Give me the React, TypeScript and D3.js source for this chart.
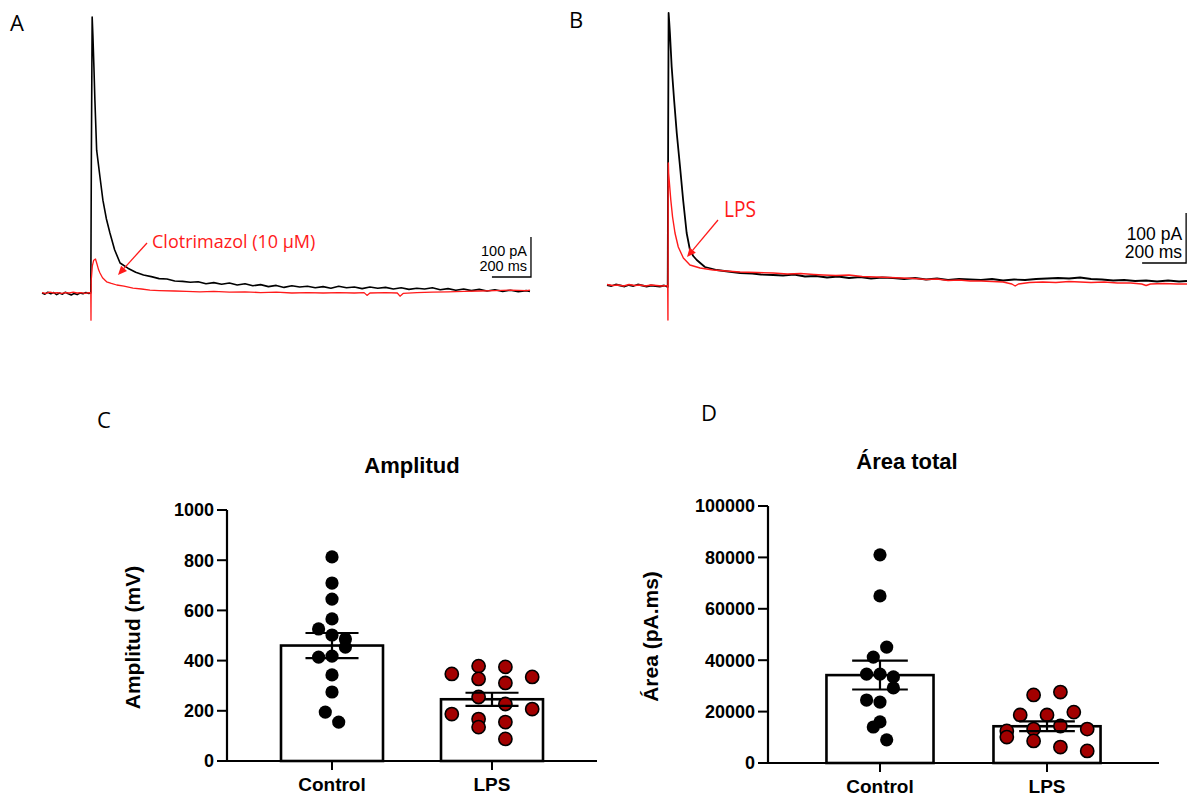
import React from 'react';
import * as d3 from 'd3';

type Pt = [number, number];

// traces: [time ms, current pA]
const traceAControl: Pt[] = [
  [0, 0], [15, -3], [30, 2], [45, -2], [60, 1], [75, -4], [90, 0], [105, -3], [120, 2], [135, -2], [150, -5],
  [165, -1], [180, -4], [195, 0], [210, -2], [225, 1], [240, -1], [250, 0],
  [253, 350], [257, 690], [261, 640], [266, 565], [271, 482], [280, 357], [297, 290], [312, 232], [330, 185],
  [348, 150], [372, 108], [400, 75], [440, 62], [480, 52], [520, 45], [560, 41], [600, 36], [640, 35], [680, 30],
  [720, 29], [760, 27], [800, 28], [840, 23], [880, 26], [920, 22], [960, 25], [1000, 20], [1040, 23], [1080, 18],
  [1120, 21], [1160, 16], [1200, 19], [1240, 14], [1280, 18], [1320, 15], [1360, 17], [1400, 13], [1440, 16],
  [1480, 12], [1520, 17], [1560, 13], [1600, 15], [1640, 11], [1680, 15], [1720, 12], [1760, 14], [1800, 10],
  [1840, 13], [1880, 9], [1920, 12], [1960, 10], [2000, 13], [2040, 8], [2080, 11], [2120, 7], [2160, 10],
  [2200, 6], [2240, 9], [2280, 5], [2320, 8], [2360, 4], [2400, 7], [2440, 3], [2480, 6], [2500, 4],
];

const traceAClotri: Pt[] = [
  [0, 1], [20, -1], [40, 2], [60, 0], [80, 1], [100, -1], [120, 1], [140, 0], [160, 2], [180, 0], [200, 1],
  [220, -1], [240, 1], [250, 0], [251, -68], [252, 30], [258, 68], [265, 82], [274, 85], [282, 72], [290, 58],
  [297, 50], [310, 38], [331, 28], [355, 24], [383, 20], [420, 17], [466, 12], [510, 10], [553, 7], [600, 6],
  [680, 5], [740, 4], [809, 3], [880, 4], [960, 2], [1040, 3], [1120, 1], [1200, 2], [1280, 0], [1360, 1],
  [1440, 0], [1520, 1], [1600, 0], [1650, 1], [1665, -6], [1680, 0], [1760, 1], [1820, 0], [1834, -8],
  [1850, -1], [1920, 1], [2000, 2], [2080, 3], [2160, 4], [2240, 5], [2320, 6], [2400, 7], [2480, 6], [2500, 7],
];

const traceBControl: Pt[] = [
  [0, 0], [20, -2], [40, 1], [60, -1], [80, -3], [100, 0], [120, -2], [140, 1], [160, -1], [180, -3], [200, -1],
  [220, -2], [240, -3], [260, -1], [276, -4], [278, 300], [280, 544], [283, 525], [286, 504], [294, 436],
  [305, 370], [317, 304], [332, 236], [346, 170], [362, 104], [377, 70], [392, 58], [408, 50], [445, 36],
  [499, 30], [550, 27], [605, 24], [660, 23], [700, 21], [755, 20], [800, 19], [850, 21], [900, 17], [950, 18],
  [1000, 15], [1050, 17], [1100, 14], [1150, 16], [1200, 13], [1250, 15], [1300, 14], [1350, 12], [1400, 14],
  [1450, 11], [1500, 13], [1550, 10], [1600, 12], [1650, 11], [1700, 10], [1750, 12], [1800, 9], [1850, 11],
  [1900, 10], [1950, 12], [2000, 13], [2050, 14], [2100, 13], [2150, 15], [2200, 12], [2250, 11], [2300, 9],
  [2350, 10], [2400, 8], [2450, 9], [2500, 7], [2550, 9], [2600, 7], [2636, 8],
];

const traceBLps: Pt[] = [
  [0, 1], [25, -1], [50, 0], [75, -2], [100, 1], [125, -1], [150, 0], [175, -2], [200, 0], [225, -1], [250, -2],
  [276, -1], [277, -70], [278, 180], [279, 244], [280, 224], [290, 170], [298, 136], [309, 104], [324, 76],
  [347, 54], [377, 40], [423, 34], [482, 30], [540, 28], [605, 26], [680, 25], [755, 24], [820, 22], [880, 23],
  [940, 21], [982, 20], [1040, 19], [1100, 20], [1160, 17], [1220, 16], [1286, 15], [1340, 14], [1400, 13],
  [1450, 11], [1500, 12], [1550, 9], [1600, 10], [1650, 8], [1700, 8], [1750, 7], [1800, 6], [1840, 2],
  [1855, -2], [1870, 2], [1920, 5], [1980, 6], [2040, 5], [2100, 7], [2150, 6], [2200, 5], [2260, 6],
  [2320, 4], [2380, 4], [2430, 2], [2450, -1], [2470, 2], [2530, 3], [2590, 2], [2636, 2],
];

// bar charts
const groups = ['Control', 'LPS'];

const ampMean = [460, 246];
const ampSem = [50, 26];
const ampTicks = [0, 200, 400, 600, 800, 1000];
// [value, column slot]
const ampControl: Pt[] = [
  [813, 0], [709, 0], [645, 0], [566, 0], [526, -2], [502, 0], [486, 2], [454, 2], [414, -2], [418, 0],
  [343, 0], [275, 0], [195, -1], [155, 1],
];
const ampLps: Pt[] = [
  [347, -6], [378, -2], [327, -2], [375, 2], [311, 2], [335, 6], [255, -2], [227, 2], [207, 6], [187, -6],
  [167, -2], [135, -2], [155, 2], [88, 2],
];

const areaMean = [34200, 14300];
const areaSem = [5600, 1900];
const areaTicks = [0, 20000, 40000, 60000, 80000, 100000];
const areaControl: Pt[] = [
  [81000, 0], [65000, 0], [45100, 1], [41200, -1], [34600, -2], [34600, 0], [33500, 2], [29200, 2],
  [24500, -2], [23700, 0], [16000, 0], [14000, -1], [9000, 1],
];
const areaLps: Pt[] = [
  [26500, -2], [27600, 2], [18700, -4], [18700, 0], [19800, 4], [12500, -6], [10100, -6], [13200, -2],
  [14400, 2], [13200, 6], [8600, -2], [6200, 2], [4700, 6],
];

const RED = '#ff1a1a';
const DOT_RED = '#a30000';
const ARIAL = '"Liberation Sans", Arial, sans-serif';
const SANS = '"Open Sans", "Noto Sans", sans-serif';

function Trace({ data, x, y, color, w }: any) {
  const line = d3.line<Pt>().x(d => x(d[0])).y(d => y(d[1]));
  return <path d={line(data) || ''} fill="none" stroke={color} strokeWidth={w} strokeLinejoin="round" />;
}

function ScaleBar({ x, y, t, i, fs, lift }: any) {
  const cx = x(t), cy = y(i);
  const left = x(t - 200), top = y(i + 100);
  return (
    <g fontFamily={ARIAL} fontSize={fs} textAnchor="end">
      <path d={`M${left},${cy}H${cx}V${top}`} fill="none" stroke="#000" strokeWidth={1.3} />
      <text x={cx - 4} y={cy - lift - fs * 1.05}>100 pA</text>
      <text x={cx - 4} y={cy - lift}>200 ms</text>
    </g>
  );
}

function Arrow({ x1, y1, x2, y2 }: any) {
  const a = Math.atan2(y2 - y1, x2 - x1);
  const L = 9, W = 4;
  const bx = x2 - L * Math.cos(a), by = y2 - L * Math.sin(a);
  const p = [
    [x2, y2],
    [bx + W * Math.sin(a), by - W * Math.cos(a)],
    [bx - W * Math.sin(a), by + W * Math.cos(a)],
  ];
  return (
    <g>
      <line x1={x1} y1={y1} x2={bx} y2={by} stroke={RED} strokeWidth={1.3} />
      <polygon points={p.map(q => q.join(',')).join(' ')} fill={RED} />
    </g>
  );
}

function BarPanel({ x0, x1, yBottom, yTop, max, ticks, means, sems, dots, fills, padIn, padOut, title, titleX, yLabel, yLabelX, xLabelY }: any) {
  const x = d3.scaleBand().domain(groups).range([x0, x1]).paddingInner(padIn).paddingOuter(padOut);
  const y = d3.scaleLinear().domain([0, max]).range([yBottom, yTop]);
  const bw = x.bandwidth();
  const slot = 6.7;
  return (
    <g fontFamily={ARIAL} fontWeight="bold">
      <text x={titleX} y={yTop - 37} fontSize={22} textAnchor="middle">{title}</text>
      <text transform={`translate(${yLabelX},${(yTop + yBottom) / 2 + 2}) rotate(-90)`} fontSize={21} textAnchor="middle">{yLabel}</text>
      {groups.map((g, gi) => {
        const cx = x(g)! + bw / 2;
        return (
          <g key={g}>
            <rect x={x(g)} y={y(means[gi])} width={bw} height={yBottom - y(means[gi])} fill="#fff" stroke="#000" strokeWidth={2.6} />
            {dots[gi].map((d: Pt, k: number) => (
              <circle key={k} cx={cx + d[1] * slot} cy={y(d[0])} r={6.6} fill={fills[gi]} stroke="#000" strokeWidth={gi === 1 ? 1.6 : 0} />
            ))}
            <path
              d={`M${cx - bw * 0.26},${y(means[gi] + sems[gi])}H${cx + bw * 0.26}M${cx},${y(means[gi] + sems[gi])}V${y(means[gi] - sems[gi])}M${cx - bw * 0.26},${y(means[gi] - sems[gi])}H${cx + bw * 0.26}`}
              stroke="#000" strokeWidth={2.2} fill="none"
            />
            <line x1={cx} x2={cx} y1={yBottom} y2={yBottom + 9} stroke="#000" strokeWidth={2} />
            <text x={cx} y={xLabelY} fontSize={19} textAnchor="middle">{g}</text>
          </g>
        );
      })}
      <path d={`M${x0},${yTop}V${yBottom}H${x1}`} fill="none" stroke="#000" strokeWidth={2.2} />
      {ticks.map((t: number) => (
        <g key={t}>
          <line x1={x0 - 10} x2={x0} y1={y(t)} y2={y(t)} stroke="#000" strokeWidth={2} />
          <text x={x0 - 13} y={y(t)} dy="0.36em" fontSize={18} textAnchor="end">{t}</text>
        </g>
      ))}
    </g>
  );
}

export default function App() {
  const xA = d3.scaleLinear().domain([0, 2500]).range([42, 530]);
  const yA = d3.scaleLinear().domain([0, 100]).range([293, 253]);
  const xB = d3.scaleLinear().domain([0, 2636]).range([607, 1187]);
  const yB = d3.scaleLinear().domain([0, 100]).range([285, 235]);

  return (
    <div style={{ position: 'absolute', left: 0, top: 0 }}>
      <svg width={1187} height={799} style={{ display: 'block', background: '#fff' }}>
        <g fontFamily={SANS} fontSize={22}>
          <text x={10} y={31}>A</text>
          <text x={569} y={28}>B</text>
          <text x={97} y={428}>C</text>
          <text x={701} y={421}>D</text>
        </g>

        <Trace data={traceAControl} x={xA} y={yA} color="#000" w={1.6} />
        <Trace data={traceAClotri} x={xA} y={yA} color={RED} w={1.3} />
        <ScaleBar x={xA} y={yA} t={2505} i={40} fs={14.5} lift={6} />
        <text x={152} y={248} fill={RED} fontFamily={SANS} fontSize={18}>Clotrimazol (10 µM)</text>
        <Arrow x1={147} y1={243} x2={118} y2={275} />

        <Trace data={traceBControl} x={xB} y={yB} color="#000" w={1.8} />
        <Trace data={traceBLps} x={xB} y={yB} color={RED} w={1.4} />
        <ScaleBar x={xB} y={yB} t={2632} i={44} fs={17.5} lift={5} />
        <text x={724} y={217} fill={RED} fontFamily={SANS} fontSize={22} textLength={32} lengthAdjust="spacingAndGlyphs">LPS</text>
        <Arrow x1={718} y1={220} x2={687} y2={257} />

        <BarPanel
          x0={227} x1={597} yBottom={761} yTop={510} max={1000} ticks={ampTicks}
          means={ampMean} sems={ampSem} dots={[ampControl, ampLps]} fills={['#000', DOT_RED]}
          padIn={0.3625} padOut={0.3375} title="Amplitud" titleX={412}
          yLabel="Amplitud (mV)" yLabelX={140} xLabelY={791}
        />
        <BarPanel
          x0={768} x1={1159} yBottom={763} yTop={506} max={100000} ticks={areaTicks}
          means={areaMean} sems={areaSem} dots={[areaControl, areaLps]} fills={['#000', DOT_RED]}
          padIn={0.359} padOut={0.35} title="Área total" titleX={907}
          yLabel="Área (pA.ms)" yLabelX={658} xLabelY={793}
        />
      </svg>
    </div>
  );
}
